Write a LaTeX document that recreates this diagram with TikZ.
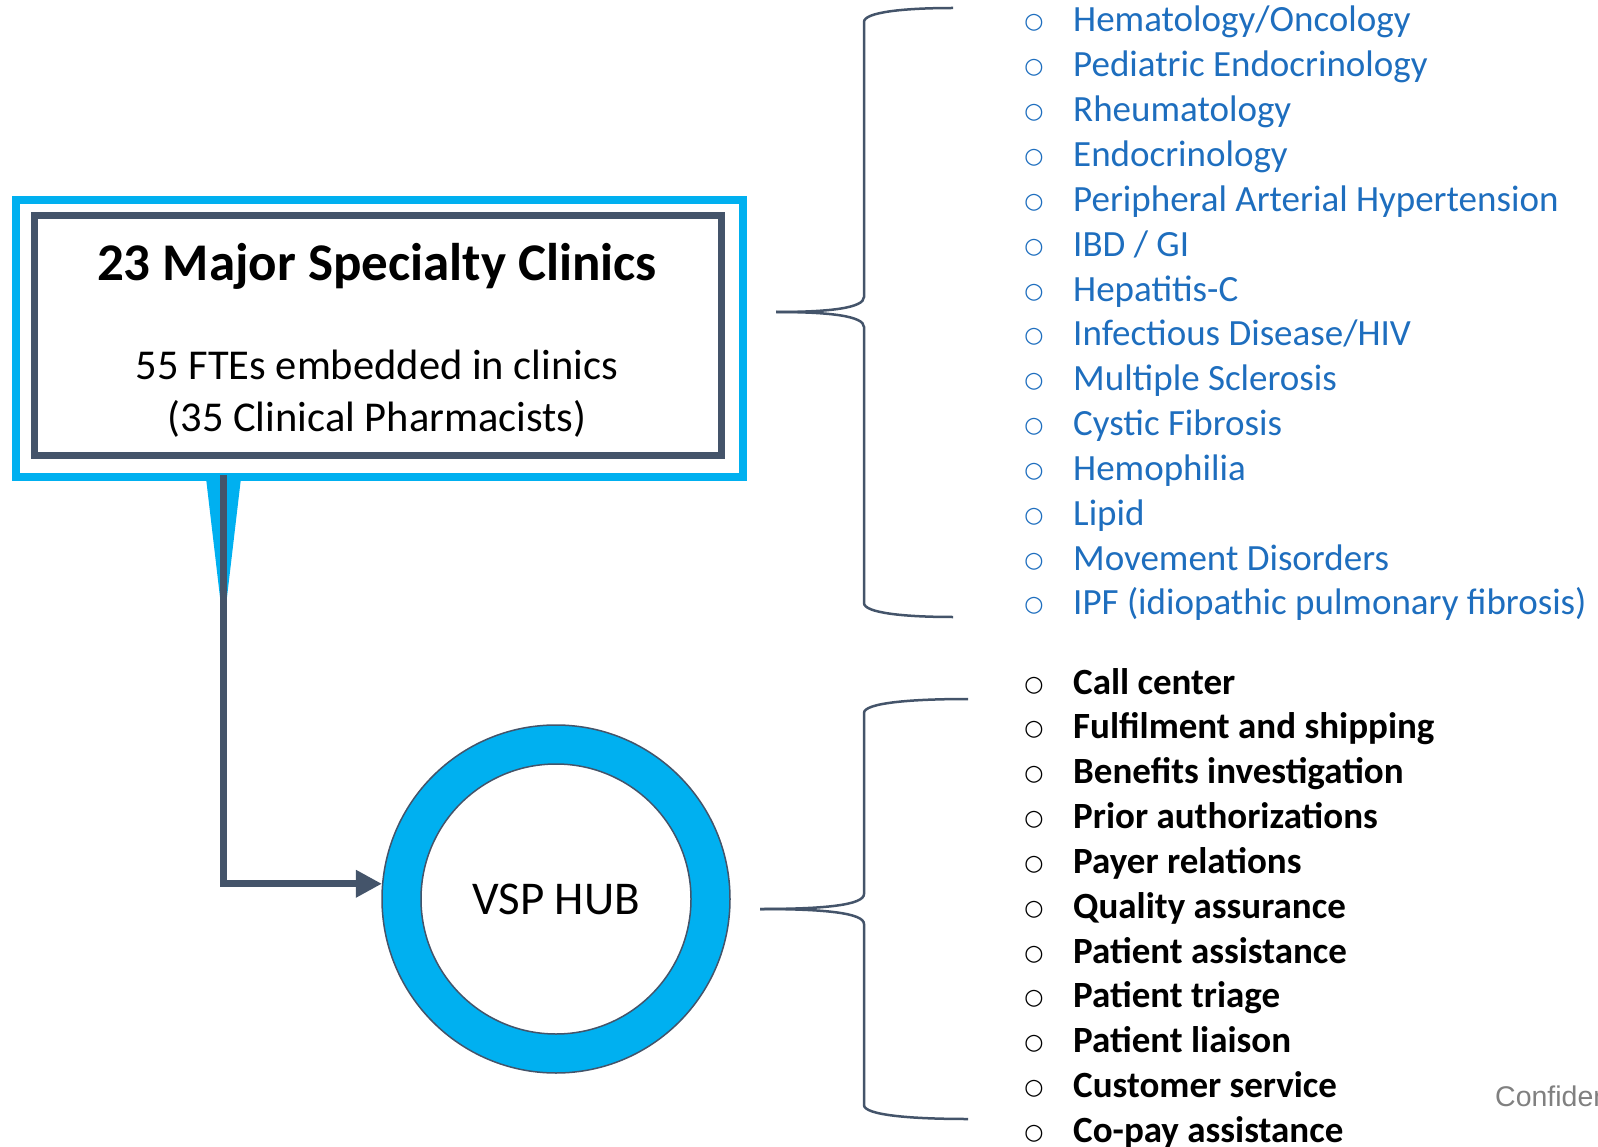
\documentclass[tikz,border=0pt]{standalone}
\usepackage{fontspec}
\setmainfont{Carlito}
\newfontfamily\bulletfont{DejaVu Sans}
\newfontfamily\notefont{Liberation Sans}
\usetikzlibrary{arrows.meta, positioning}

\definecolor{hubcyan}{HTML}{00B0F0}
\definecolor{slate}{HTML}{44546A}
\definecolor{listblue}{HTML}{1E6EBE}

\begin{document}
\begin{tikzpicture}[
    x=1pt, y=-1pt,
    frame/.style={rectangle, draw=hubcyan, line width=8pt, minimum width=727pt, minimum height=277pt},
    clinicbox/.style={rectangle, draw=slate, line width=7pt, minimum width=687pt, minimum height=239pt},
    ring/.style={circle, draw=slate, line width=1.5pt, fill=hubcyan, minimum size=348pt},
    hole/.style={circle, draw=slate, line width=1.5pt, fill=white, minimum size=270pt, font=\fontsize{47}{56}\selectfont},
    link/.style={draw=slate, line width=7pt, -{Triangle[length=26pt, width=26pt]}},
    brace/.style={draw=slate, line width=2.5pt},
    clinic/.style={anchor=base west, inner sep=0pt, text=listblue, font=\fontsize{37}{44}\selectfont},
    service/.style={anchor=base west, inner sep=0pt, font=\fontsize{37}{44}\selectfont\bfseries},
    dot/.style={anchor=base, inner sep=0pt, font=\bulletfont\fontsize{22}{26}\selectfont}
]
    \useasboundingbox (0,0) rectangle (1598,1147);

    % Clinics box with its callout frame
    \node[frame] (frame) at (379.5,338.5) {};
    \fill[hubcyan] (206,478) -- (241,478) -- (223.5,627) -- cycle;
    \node[clinicbox] (clinics) at (377.5,335.5) {};
    \node[anchor=base, inner sep=0pt, font=\fontsize{53}{64}\selectfont\bfseries] (title) at (377,281) {23 Major Specialty Clinics};
    \node[anchor=base, inner sep=0pt, font=\fontsize{42.5}{51}\selectfont] (staff) at (377,380) {55 FTEs embedded in clinics};
    \node[anchor=base, inner sep=0pt, font=\fontsize{42.5}{51}\selectfont] (pharm) at (377,431) {(35 Clinical Pharmacists)};

    % Hub
    \node[ring] (hub) at (556,899) {};
    \node[hole] (hubtext) at (hub.center) {VSP HUB};

    % Clinics feed the hub
    \draw[link] ([xshift=-156pt, yshift=6pt]frame.south) |- (hub.175);

    % Braces
    \draw[brace] (776,312) .. controls (830,312) and (864,308) .. (864,297) -- (864,22) .. controls (864,12) and (905,8) .. (953,8);
    \draw[brace] (776,312) .. controls (830,312) and (864,316) .. (864,327) -- (864,603) .. controls (864,613) and (905,617) .. (953,617);
    \draw[brace] (760,909) .. controls (825,909) and (864,905) .. (864,894) -- (864,713) .. controls (864,703) and (910,699) .. (968,699);
    \draw[brace] (760,909) .. controls (825,909) and (864,913) .. (864,924) -- (864,1105) .. controls (864,1115) and (910,1119) .. (968,1119);

    % Specialty clinics
    \foreach \name [count=\i from 0] in {Hematology/Oncology, Pediatric Endocrinology, Rheumatology, Endocrinology,
        Peripheral Arterial Hypertension, IBD / GI, Hepatitis-C, Infectious Disease/HIV, Multiple Sclerosis,
        Cystic Fibrosis, Hemophilia, Lipid, Movement Disorders, IPF (idiopathic pulmonary fibrosis)} {
        \node[dot, text=listblue] (cb\i) at (1034,29+44.84*\i) {○};
        \node[clinic] (c\i) at (1073,32+44.84*\i) {\name};
    }

    % Hub services
    \foreach \name [count=\i from 0] in {Call center, Fulfilment and shipping, Benefits investigation,
        Prior authorizations, Payer relations, Quality assurance, Patient assistance, Patient triage,
        Patient liaison, Customer service, Co-pay assistance} {
        \node[dot] (sb\i) at (1034,691+44.84*\i) {○};
        \node[service] (s\i) at (1073,694+44.84*\i) {\name};
    }

    \node[anchor=base west, inner sep=0pt, text=black!50, font=\notefont\fontsize{28.5}{34}\selectfont] (conf) at (1495,1106) {Confidential};
\end{tikzpicture}
\end{document}
